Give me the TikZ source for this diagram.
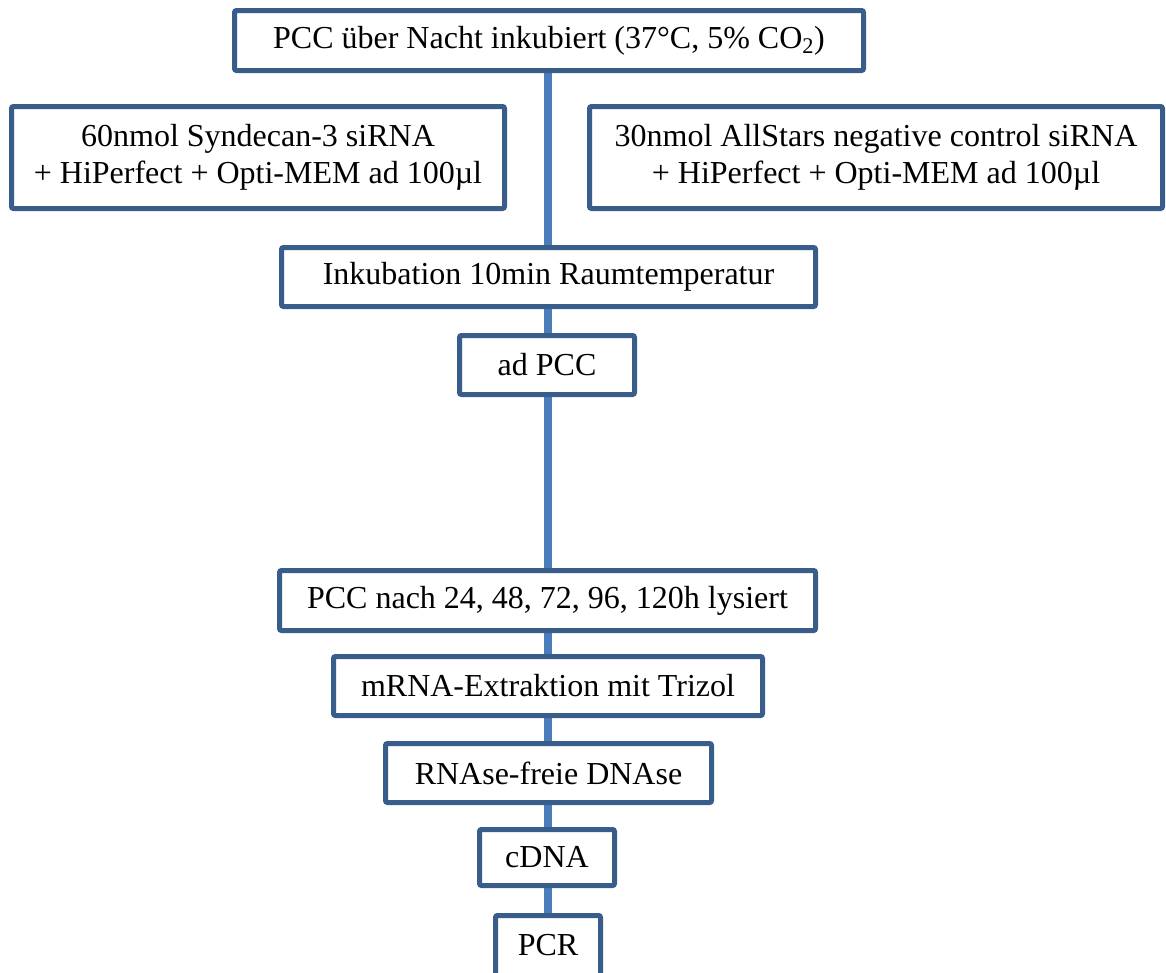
\documentclass[tikz,border=0pt]{standalone}
\usepackage{fontspec}
\setmainfont{Liberation Serif}
\usetikzlibrary{backgrounds}
\definecolor{boxline}{RGB}{56,93,138}
\definecolor{conn}{RGB}{74,126,187}
\tikzset{
  fbox/.style={draw=boxline, line width=3.75pt, fill=white, rounded corners=1.5pt,
    inner sep=0pt, align=center, font=\fontsize{24}{27.8}\selectfont},
  flowline/.style={draw=conn, line width=6pt}
}
\newcommand\flowbox[6]{\node[fbox, minimum width={(#4-#2-5)*0.75pt}, minimum height={(#5-#3-5)*0.75pt}] (#1) at ({(#2+#4)/2},{(#3+#5)/2}) {#6};}
\begin{document}
\begin{tikzpicture}[x=0.75pt,y=-0.75pt]
\useasboundingbox (0,0) rectangle (1166,972);
\clip (0,0) rectangle (1166,972);
\flowbox{top}{232}{8}{866}{73}{PCC über Nacht inkubiert (37°C, 5\% CO\textsubscript{2})}
\flowbox{left}{9}{104}{507}{211}{60nmol Syndecan-3 siRNA\\+ HiPerfect + Opti-MEM ad 100µl}
\flowbox{right}{587}{104}{1165}{211}{30nmol AllStars negative control siRNA\\+ HiPerfect + Opti-MEM ad 100µl}
\flowbox{ink}{279}{245}{818}{309}{Inkubation 10min Raumtemperatur}
\flowbox{ad}{457}{333}{637}{397}{ad PCC}
\flowbox{lys}{277}{568}{818}{633}{PCC nach 24, 48, 72, 96, 120h lysiert}
\flowbox{mrna}{331}{654}{765}{718}{mRNA-Extraktion mit Trizol}
\flowbox{rnase}{383}{741}{714}{805}{RNAse-freie DNAse}
\flowbox{cdna}{477}{827}{617}{888}{cDNA}
\flowbox{pcr}{493}{913}{603}{978}{PCR}
\begin{pgfonlayer}{background}
\draw[flowline] (top.south -| 547.5,0) -- (ink.north -| 547.5,0);
\draw[flowline] (ink.south -| 547.5,0) -- (ad.north -| 547.5,0);
\draw[flowline] (ad.south -| 547.5,0) -- (lys.north -| 547.5,0);
\draw[flowline] (lys.south -| 547.5,0) -- (mrna.north -| 547.5,0);
\draw[flowline] (mrna.south -| 547.5,0) -- (rnase.north -| 547.5,0);
\draw[flowline] (rnase.south -| 547.5,0) -- (cdna.north -| 547.5,0);
\draw[flowline] (cdna.south -| 547.5,0) -- (pcr.north -| 547.5,0);
\end{pgfonlayer}
\end{tikzpicture}
\end{document}
